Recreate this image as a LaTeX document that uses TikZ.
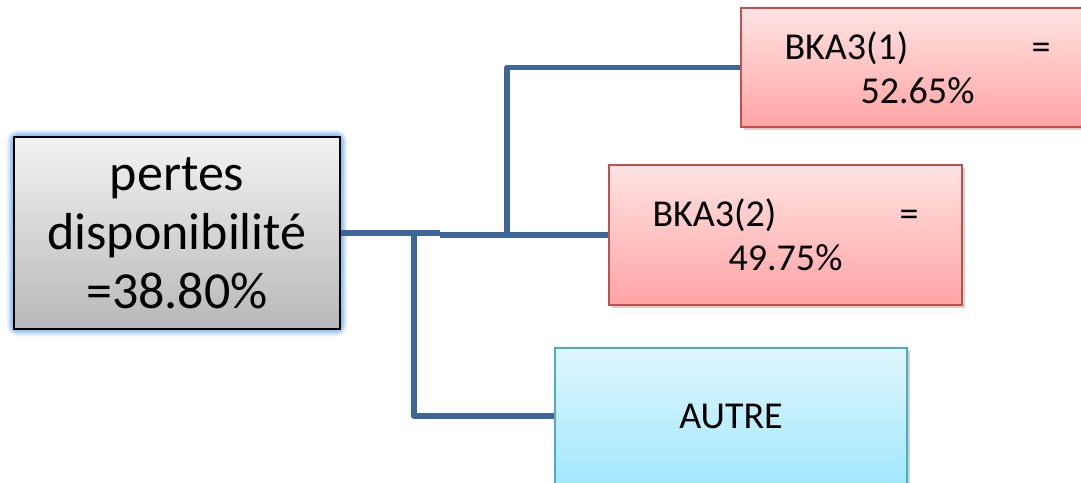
\documentclass[tikz,border=0pt]{standalone}
\usepackage{fontspec}
\setmainfont{Carlito}
\definecolor{connblue}{HTML}{3F6698}
\definecolor{glowblue}{HTML}{8DBBF2}
\definecolor{pinktop}{HTML}{FFE3E3}
\definecolor{pinkbot}{HTML}{FFA4A4}
\definecolor{pinkedge}{HTML}{C24F4C}
\definecolor{cyantop}{HTML}{DFF6FD}
\definecolor{cyanbot}{HTML}{A3E8FC}
\definecolor{cyanedge}{HTML}{4AACC6}
\definecolor{graytop}{HTML}{F2F2F2}
\definecolor{graybot}{HTML}{B8B8B8}
\tikzset{
  rootbox/.style={draw=black, line width=1.4pt, top color=graytop, bottom color=graybot,
    inner sep=0pt, align=center, font=\fontsize{52}{59}\selectfont},
  redbox/.style={draw=pinkedge, line width=1.2pt, top color=pinktop, bottom color=pinkbot,
    inner sep=0pt, align=center, font=\fontsize{38}{44}\selectfont},
  cyanbox/.style={draw=cyanedge, line width=1.2pt, top color=cyantop, bottom color=cyanbot,
    inner sep=0pt, align=center, font=\fontsize{38}{44}\selectfont},
  conn/.style={draw=connblue, line width=5.5pt, line join=round},
  shadowbox/.style={fill=black, opacity=0.18}
}
\begin{document}
\begin{tikzpicture}[x=1pt, y=-1pt]
\useasboundingbox (0,0) rectangle (1081,482);
\clip (0,0) rectangle (1081,482);

% soft blue glow around the root box
\foreach \w/\o in {14/0.2, 11/0.3, 8/0.45, 5/0.65, 3/0.8}
  \draw[glowblue, line width=\w pt, opacity=\o, rounded corners=4pt] (14,137) rectangle (340,329);

% drop shadows of the coloured boxes
\fill[shadowbox] (744,11) rectangle (1097,130);
\fill[shadowbox] (612,168) rectangle (965,308);
\fill[shadowbox] (558,351) rectangle (910,487);

\node[rootbox, minimum width=326pt, minimum height=192pt] (root) at (177,233)
  {pertes\\disponibilité\\=38.80\%};
\node[redbox, minimum width=353pt, minimum height=119pt] (b1) at (917.5,67.5)
  {\makebox[266pt]{BKA3(1)\hfill=}\\52.65\%};
\node[redbox, minimum width=353pt, minimum height=140pt] (b2) at (785.5,235)
  {\makebox[266pt]{BKA3(2)\hfill=}\\49.75\%};
\node[cyanbox, minimum width=352pt, minimum height=136pt] (c) at (731,416) {AUTRE};

% branching points of the connectors
\coordinate (j1) at (507,234.5);
\coordinate (j2) at (440,235);
\coordinate (j3) at (414,233);

\draw[conn] (root.east) -- (root.east -| j2);
\draw[conn] (j2) -- (b2.west);
\draw[conn] (j1) |- (b1.west);
\draw[conn] (j3) |- (c.west);
\end{tikzpicture}
\end{document}
